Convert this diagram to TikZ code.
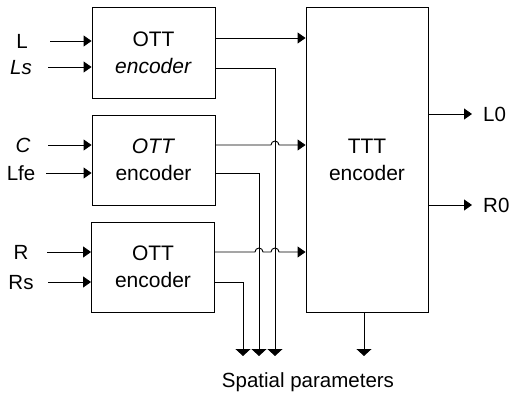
\documentclass[tikz,border=0pt]{standalone}
\usepackage{fontspec}
\setmainfont{Liberation Sans}
\usetikzlibrary{arrows.meta,calc}
\begin{document}
\begin{tikzpicture}[x=1pt,y=-1pt,
  blk/.style={draw,line width=0.9pt,minimum width=123pt,inner sep=0pt,align=center,font=\fontsize{21}{27}\selectfont},
  lbl/.style={font=\fontsize{20.5}{24}\selectfont,inner sep=0pt,text height=14.7pt,text depth=0pt},
  ln/.style={line width=0.9pt},
  arr/.style={ln,-{Triangle[length=8pt,width=11pt]}},
  darr/.style={ln,-{Triangle[length=7pt,width=15pt]}}]
\useasboundingbox (0,0) rectangle (514,395);
% blocks
\node[blk,minimum height=91pt] (o1) at (153.5,52.5) {OTT\\\textit{encoder}};
\node[blk,minimum height=90pt] (o2) at (153.5,160) {\textit{OTT}\\encoder};
\node[blk,minimum height=90pt] (o3) at (153,267) {OTT\\encoder};
\node[blk,minimum height=305pt,minimum width=122pt,text depth=0pt] (ttt) at (367,159.5) {TTT\\encoder};
% input labels
\node[lbl] (L) at (22,41) {L};
\node[lbl] (Ls) at (21,67) {\textit{Ls}};
\node[lbl] (C) at (23,145) {\textit{C}};
\node[lbl] (Lfe) at (21,173) {Lfe};
\node[lbl] (R) at (21,252) {R};
\node[lbl] (Rs) at (21,282) {Rs};
% input arrow starts
\coordinate (iL) at (50,41);
\coordinate (iLs) at (48,67);
\coordinate (iC) at (48,145);
\coordinate (iLfe) at (46,173);
\coordinate (iR) at (47,252);
\coordinate (iRs) at (48,282);
\foreach \s/\b in {iL/o1,iLs/o1,iC/o2,iLfe/o2,iR/o3,iRs/o3}
  \draw[arr] (\s) -- (\s -| \b.west);
% output ports
\coordinate (o1a) at ($(o1.east)+(0,-14.5)$);
\coordinate (o1b) at ($(o1.east)+(0,15.5)$);
\coordinate (o2a) at ($(o2.east)+(0,-15)$);
\coordinate (o2b) at ($(o2.east)+(0,13)$);
\coordinate (o3a) at ($(o3.east)+(0,-15)$);
\coordinate (o3b) at ($(o3.east)+(0,15)$);
% spatial parameter ends
\coordinate (v1) at (275,356);
\coordinate (v2) at (259,356);
\coordinate (v3) at (243,356);
\coordinate (v4) at (364,356);
% connections to TTT
\draw[arr] (o1a) -- (o1a -| ttt.west);
\draw[arr] (o2a) -- ($(v1 |- o2a)+(-4,0)$) arc[start angle=180,end angle=0,radius=4pt] -- (o2a -| ttt.west);
\draw[arr] (o3a) -- ($(v2 |- o3a)+(-4,0)$) arc[start angle=180,end angle=0,radius=4pt]
  -- ($(v1 |- o3a)+(-4,0)$) arc[start angle=180,end angle=0,radius=4pt] -- (o3a -| ttt.west);
% spatial parameters
\draw[darr] (o1b) -| (v1);
\draw[darr] (o2b) -| (v2);
\draw[darr] (o3b) -| (v3);
\draw[darr] (ttt.south -| v4) -- (v4);
\node[lbl] (sp) at (308,380) {Spatial parameters};
% outputs
\node[lbl,anchor=west] (L0) at (483,114) {L0};
\node[lbl,anchor=west] (R0) at (483,205) {R0};
\draw[arr,shorten >=11pt] (L0 -| ttt.east) -- (L0.west);
\draw[arr,shorten >=11pt] (R0 -| ttt.east) -- (R0.west);
\end{tikzpicture}
\end{document}
